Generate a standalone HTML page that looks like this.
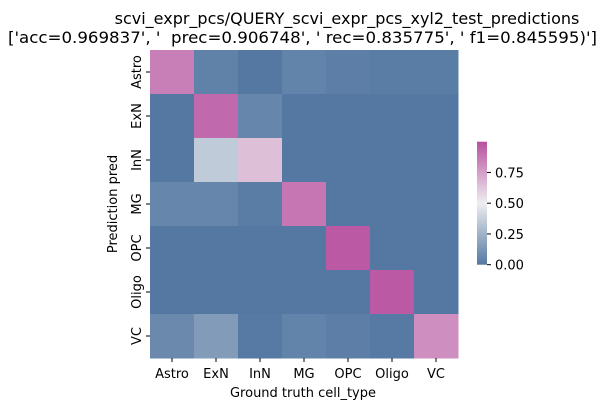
<!DOCTYPE html>
<html><head><meta charset="utf-8"><style>body{margin:0;background:#fff}svg{display:block;font-family:"DejaVu Sans","Liberation Sans",sans-serif}</style></head>
<body>
<svg id="chart" width="607" height="411" xmlns="http://www.w3.org/2000/svg">
<text x="347" y="24" font-size="16" text-anchor="middle">scvi_expr_pcs/QUERY_scvi_expr_pcs_xyl2_test_predictions</text>
<text x="8" y="43" font-size="16" textLength="589" lengthAdjust="spacingAndGlyphs" style="white-space:pre" xml:space="preserve">['acc=0.969837', '  prec=0.906748', ' rec=0.835775', ' f1=0.845595)']</text>
<g id="cells"></g><g id="xt"></g><g id="yt"></g><g id="cb"></g>
<text x="303" y="397" font-size="13" text-anchor="middle">Ground truth cell_type</text>
<text transform="translate(117,204) rotate(-90)" font-size="13" text-anchor="middle">Prediction pred</text>
</svg>
<script>
const categories=["Astro","ExN","InN","MG","OPC","Oligo","VC"];
const row0=[0.85,0.04,0.0,0.05,0.03,0.02,0.02];
const row1=[0.0,0.92,0.06,0.0,0.0,0.0,0.0];
const row2=[0.0,0.35,0.65,0.0,0.0,0.0,0.0];
const row3=[0.06,0.06,0.02,0.88,0.0,0.0,0.0];
const row4=[0.0,0.0,0.0,0.0,0.97,0.0,0.0];
const row5=[0.0,0.0,0.0,0.0,0.0,0.97,0.0];
const row6=[0.07,0.15,0.01,0.05,0.03,0.01,0.8];
const rows=[row0,row1,row2,row3,row4,row5,row6];
const cbTicks=[0,0.25,0.5,0.75];
const NS="http://www.w3.org/2000/svg";
const X0=150,Y0=50,CW=44,CH=44,vmax=1;
const xs=i=>X0+i*CW, ys=j=>Y0+j*CH;
function col(v){v=Math.max(0,Math.min(1,v/vmax));
 const s=[[0,[84,120,162]],[0.5,[238,238,240]],[1,[184,80,160]]];
 let a=v<=0.5?s[0]:s[1],b=v<=0.5?s[1]:s[2];let t=(v-a[0])/(b[0]-a[0]);
 return `rgb(${a[1].map((c,k)=>Math.round(c+(b[1][k]-c)*t)).join(',')})`;}
function mk(tag,at,p){const e=document.createElementNS(NS,tag);for(const k in at)e.setAttribute(k,at[k]);p.appendChild(e);return e;}
const cells=document.getElementById('cells');
rows.forEach((r,j)=>r.forEach((v,i)=>{const e=mk('rect',{x:xs(i),y:ys(j),width:CW+0.5,height:CH+0.5,fill:col(v)},cells);

}));
const xt=document.getElementById('xt'),yt=document.getElementById('yt');
categories.forEach((c,i)=>{
 mk('line',{x1:xs(i)+CW/2,x2:xs(i)+CW/2,y1:Y0+7*CH,y2:Y0+7*CH+4,stroke:'#000'},xt);
 const t=mk('text',{x:xs(i)+CW/2,y:Y0+7*CH+20,'font-size':13,'text-anchor':'middle'},xt);t.textContent=c;
 
 
 mk('line',{x1:X0-4,x2:X0,y1:ys(i)+CH/2,y2:ys(i)+CH/2,stroke:'#000'},yt);
 const u=mk('text',{transform:`translate(${X0-9},${ys(i)+CH/2}) rotate(-90)`,'font-size':13,'text-anchor':'middle'},yt);u.textContent=c;
 
 
});
const cb=document.getElementById('cb');
const CB0=264.7,CBH=123,cbx=477,cbw=10;
const cy=v=>CB0-v/vmax*CBH;
const g=mk('linearGradient',{id:'gr',x1:0,y1:1,x2:0,y2:0},mk('defs',{},cb));
for(let k=0;k<=10;k++)mk('stop',{offset:k/10,'stop-color':col(k/10*vmax)},g);
const bar=mk('rect',{x:cbx,y:cy(vmax),width:cbw,height:CBH,fill:'url(#gr)'},cb);


cbTicks.forEach(v=>{mk('line',{x1:cbx+cbw,x2:cbx+cbw+4,y1:cy(v),y2:cy(v),stroke:'#000'},cb);
 const t=mk('text',{x:cbx+cbw+8,y:cy(v)+5,'font-size':13},cb);t.textContent=v.toFixed(2);
 
 });
</script>
</body></html>
